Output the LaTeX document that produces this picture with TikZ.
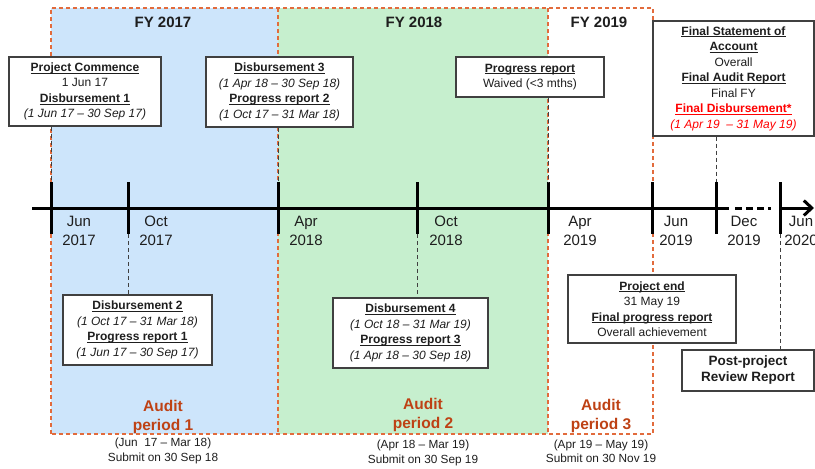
\documentclass[tikz,border=0pt]{standalone}
\usepackage{fontspec}
\setmainfont{Liberation Sans}
\usetikzlibrary{arrows.meta}
\definecolor{fyblue}{RGB}{205,229,251}
\definecolor{fygreen}{RGB}{198,239,206}
\definecolor{bord}{RGB}{226,107,60}
\definecolor{audit}{RGB}{190,65,20}
\definecolor{boxline}{RGB}{64,64,64}
\definecolor{txt}{RGB}{30,30,30}
\newcommand{\hd}[1]{\leavevmode\setbox0\hbox{\textbf{#1}}\rlap{\rule[-2pt]{\wd0}{0.8pt}}\box0}
\begin{document}
\begin{tikzpicture}[x=1pt,y=-1pt,
  fyborder/.style={draw=bord, dash pattern=on 4pt off 3pt, line width=1.1pt},
  axisline/.style={line width=3pt},
  tickmark/.style={line width=3pt},
  conn/.style={draw=black!75, dash pattern=on 4pt off 3pt, line width=0.9pt},
  infobox/.style={draw=boxline, fill=white, line width=1.1pt, align=center, inner sep=0pt, text=txt, font=\fontsize{12}{15.5}\selectfont},
  fylabel/.style={font=\fontsize{15}{18}\selectfont\bfseries, text=txt},
  datelabel/.style={font=\fontsize{15}{19}\selectfont, align=center, text=txt},
  auditlabel/.style={font=\fontsize{15.5}{19}\selectfont\bfseries, text=audit, align=center},
  sublabel/.style={font=\fontsize{11.8}{14.5}\selectfont, align=center, text=txt}]
\useasboundingbox (0,0) rectangle (815,469);
\clip (0,0) rectangle (815,469);

% FY regions
\fill[fyblue] (51,8) rectangle (278,434);
\fill[fygreen] (278,8) rectangle (548,434);
\draw[fyborder] (51,434) -- (51,8) -- (653,8) -- (653,434) -- cycle;
\draw[fyborder] (278,8) -- (278,434);
\draw[fyborder] (548,8) -- (548,434);

\node[fylabel] (fy17) at (163,22) {FY 2017};
\node[fylabel] (fy18) at (414,22) {FY 2018};
\node[fylabel] (fy19) at (599,22) {FY 2019};

% axis
\coordinate (axstart) at (32,208);
\coordinate (axsolidend) at (729,208);
\coordinate (axdashstart) at (735,208);
\coordinate (axdashend) at (771,208);
\coordinate (axarrstart) at (780,208);
\coordinate (axend) at (814,208);
\draw[axisline] (axstart) -- (axsolidend);
\draw[axisline, dash pattern=on 7pt off 4pt] (axdashstart) -- (axdashend);
\draw[axisline, -{Straight Barb[length=8pt,width=15pt]}] (axarrstart) -- (axend);

% ticks
\foreach \n/\x in {jun17/51, oct17/128, apr18/278, oct18/417, apr19/548, jun19/652, dec19/716, jun20/780}{
  \coordinate (\n top) at (\x,182);
  \coordinate (\n bot) at (\x,234);
  \draw[tickmark] (\n top) -- (\n bot);
}

% date labels
\node[datelabel] (ljun17) at (79,231) {Jun\\2017};
\node[datelabel] (loct17) at (156,231) {Oct\\2017};
\node[datelabel] (lapr18) at (306,231) {Apr\\2018};
\node[datelabel] (loct18) at (446,231) {Oct\\2018};
\node[datelabel] (lapr19) at (580,231) {Apr\\2019};
\node[datelabel] (ljun19) at (676,231) {Jun\\2019};
\node[datelabel] (ldec19) at (744,231) {Dec\\2019};
\node[datelabel] (ljun20) at (801,231) {Jun\\2020};

% boxes
\node[infobox, minimum width=152pt, minimum height=69pt] (b1) at (85,91.5)
  {\hd{Project Commence}\\1 Jun 17\\\hd{Disbursement 1}\\\textit{(1 Jun 17 – 30 Sep 17)}};
\node[infobox, minimum width=147pt, minimum height=70pt] (b3) at (279.5,92)
  {\hd{Disbursement 3}\\\textit{(1 Apr 18 – 30 Sep 18)}\\\hd{Progress report 2}\\\textit{(1 Oct 17 – 31 Mar 18)}};
\node[infobox, minimum width=148pt, minimum height=40pt] (bw) at (530,77)
  {\hd{Progress report}\\Waived (<3 mths)};
\node[infobox, minimum width=161pt, minimum height=115pt] (bf) at (733.5,78.5)
  {\hd{Final Statement of}\\\hd{Account}\\Overall\\\hd{Final Audit Report}\\Final FY\\
   \textcolor{red}{\hd{Final Disbursement*}}\\\textcolor{red}{\textit{(1 Apr 19\ \ – 31 May 19)}}};
\node[infobox, minimum width=149pt, minimum height=70pt] (b2) at (137.5,330)
  {\hd{Disbursement 2}\\\textit{(1 Oct 17 – 31 Mar 18)}\\\hd{Progress report 1}\\\textit{(1 Jun 17 – 30 Sep 17)}};
\node[infobox, minimum width=155pt, minimum height=70pt] (b4) at (410.5,333)
  {\hd{Disbursement 4}\\\textit{(1 Oct 18 – 31 Mar 19)}\\\hd{Progress report 3}\\\textit{(1 Apr 18 – 30 Sep 18)}};
\node[infobox, minimum width=168pt, minimum height=68pt] (be) at (652,309)
  {\hd{Project end}\\31 May 19\\\hd{Final progress report}\\Overall achievement};
\node[infobox, minimum width=132pt, minimum height=41pt, font=\fontsize{13.5}{16}\selectfont\bfseries] (bp) at (748,370.5)
  {Post-project\\Review Report};

% connectors
\draw[conn] (b1.south -| jun17top) -- (jun17top);
\draw[conn] (b3.south -| apr18top) -- (apr18top);
\draw[conn] (bw.south -| apr19top) -- (apr19top);
\draw[conn] (bf.south -| dec19top) -- (dec19top);
\draw[conn] (oct17bot) -- (b2.north -| oct17bot);
\draw[conn] (oct18bot) -- (b4.north -| oct18bot);
\draw[conn] (jun20bot) -- (bp.north -| jun20bot);

% audit labels
\node[auditlabel] (a1) at (163,416.5) {Audit\\period 1};
\node[auditlabel] (a2) at (423,415) {Audit\\period 2};
\node[auditlabel] (a3) at (601,416) {Audit\\period 3};
\node[sublabel] (s1) at (163,451) {(Jun\ \ 17 – Mar 18)\\Submit on 30 Sep 18};
\node[sublabel] (s2) at (423,453) {(Apr 18 – Mar 19)\\Submit on 30 Sep 19};
\node[sublabel] (s3) at (601,451.5) {(Apr 19 – May 19)\\Submit on 30 Nov 19};
\end{tikzpicture}
\end{document}
